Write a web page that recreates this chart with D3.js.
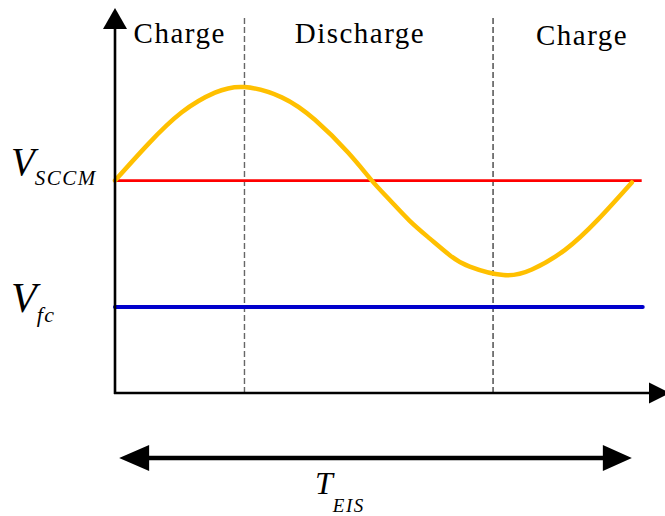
<!DOCTYPE html>
<html lang="en">
<head>
<meta charset="utf-8">
<title>SCCM charge / discharge</title>
<script src="https://d3js.org/d3.v7.min.js"></script>
<style>
  body { margin: 0; background: #fff; }
</style>
</head>
<body>
<script>
const width = 665, height = 516;
const serif = "'Liberation Serif', 'Times New Roman', Times, 'DejaVu Serif', serif";

// time in units of T_EIS, voltage in units of the ripple amplitude around V_SCCM
const tMax = 1.062, vMin = -2.27, vMax = 1.845;
const vSccm = 0, vFc = -1.35;
const lineEnd = [1.017, 1.019];      // end of red / blue levels
const phaseBounds = [0.25, 0.73];    // dashed separators
const phaseNames = ["Charge", "Discharge", "Charge"];
const phaseLabelT = [0.125, 0.473, 0.902];

// ripple
const rippleT = [0, 0.064, 0.129, 0.193, 0.25, 0.322, 0.386, 0.45, 0.496, 0.531, 0.569, 0.608, 0.647, 0.685, 0.75, 0.805, 0.869, 0.932, 0.998];
const rippleV = [0, 0.39, 0.73, 0.94, 1.0, 0.89, 0.65, 0.30, 0, -0.21, -0.43, -0.62, -0.80, -0.92, -1.01, -0.95, -0.74, -0.42, -0.02];
const periodSpan = [0.008, 0.998];

const x = d3.scaleLinear().domain([0, tMax]).range([115, 665]);
const y = d3.scaleLinear().domain([vMin, vMax]).range([393, 8]);

const svg = d3.select("body").append("svg")
    .attr("width", width)
    .attr("height", height)
    .attr("font-family", serif);

// dashed phase separators
svg.selectAll("line.sep").data(phaseBounds).enter().append("line")
    .attr("class", "sep")
    .attr("x1", d => x(d)).attr("x2", d => x(d))
    .attr("y1", 18).attr("y2", y(vMin))
    .attr("stroke", (d, i) => i ? "#444" : "#666")
    .attr("stroke-width", 1.4)
    .attr("stroke-dasharray", "6,3");

// V_fc and V_SCCM levels
svg.append("line")
    .attr("x1", x(0)).attr("x2", x(lineEnd[1]))
    .attr("y1", y(vFc)).attr("y2", y(vFc))
    .attr("stroke", "#0000cc").attr("stroke-width", 4)
    .attr("stroke-linecap", "round");
svg.append("line")
    .attr("x1", x(0)).attr("x2", x(lineEnd[0]))
    .attr("y1", y(vSccm)).attr("y2", y(vSccm))
    .attr("stroke", "#ff0000").attr("stroke-width", 2.6);

// ripple
const ripple = rippleT.map((t, i) => [t, rippleV[i]]);
svg.append("path")
    .datum(ripple)
    .attr("fill", "none")
    .attr("stroke", "#ffc000")
    .attr("stroke-width", 4.5)
    .attr("stroke-linecap", "round")
    .attr("d", d3.line().x(d => x(d[0])).y(d => y(d[1])).curve(d3.curveNatural));

// axes with arrow heads
svg.append("line")
    .attr("x1", x(0)).attr("x2", x(0))
    .attr("y1", y(vMin) + 1).attr("y2", 28)
    .attr("stroke", "#000").attr("stroke-width", 2.6);
svg.append("line")
    .attr("x1", x(0) - 1).attr("x2", 650)
    .attr("y1", y(vMin)).attr("y2", y(vMin))
    .attr("stroke", "#000").attr("stroke-width", 2.6);
svg.append("path")
    .attr("d", `M${x(0)},${y(vMax)} L${x(0) + 12},29 L${x(0) - 12},29 Z`)
    .attr("fill", "#000");
svg.append("path")
    .attr("d", `M670,${y(vMin)} L649,${y(vMin) - 10.5} L649,${y(vMin) + 10.5} Z`)
    .attr("fill", "#000");

// T_EIS double arrow
const ay = 458, a0 = x(periodSpan[0]), a1 = x(periodSpan[1]);
svg.append("line")
    .attr("x1", a0 + 20).attr("x2", a1 - 20)
    .attr("y1", ay).attr("y2", ay)
    .attr("stroke", "#000").attr("stroke-width", 4.5);
svg.append("path")
    .attr("d", `M${a0},${ay} L${a0 + 30},${ay - 13} L${a0 + 30},${ay + 13} Z M${a1},${ay} L${a1 - 29},${ay - 13} L${a1 - 29},${ay + 13} Z`)
    .attr("fill", "#000");

// phase labels
svg.selectAll("text.phase").data(phaseNames).enter().append("text")
    .attr("class", "phase")
    .attr("x", (d, i) => x(phaseLabelT[i]))
    .attr("y", (d, i) => i === 2 ? 45 : 43)
    .attr("text-anchor", "middle")
    .attr("font-family", serif)
    .attr("font-size", 29)
    .attr("letter-spacing", 1.5)
    .text(d => d);

// symbols with subscripts
function symbol(main, sub, px, py, mainSize, subSize, dx, dy) {
  const t = svg.append("text")
      .attr("x", px).attr("y", py)
      .attr("font-family", serif)
      .attr("font-style", "italic");
  t.append("tspan").attr("font-size", mainSize).text(main);
  t.append("tspan").attr("dx", dx).attr("dy", dy)
      .attr("font-size", subSize)
      .attr("letter-spacing", 1.5)
      .text(sub);
}
symbol("V", "SCCM", 11, 175, 39, 21, 0, 10);
symbol("V", "fc", 11, 312, 42, 22, 0, 10);
symbol("T", "EIS", 315, 494, 32, 19, 0, 18);
</script>
</body>
</html>
